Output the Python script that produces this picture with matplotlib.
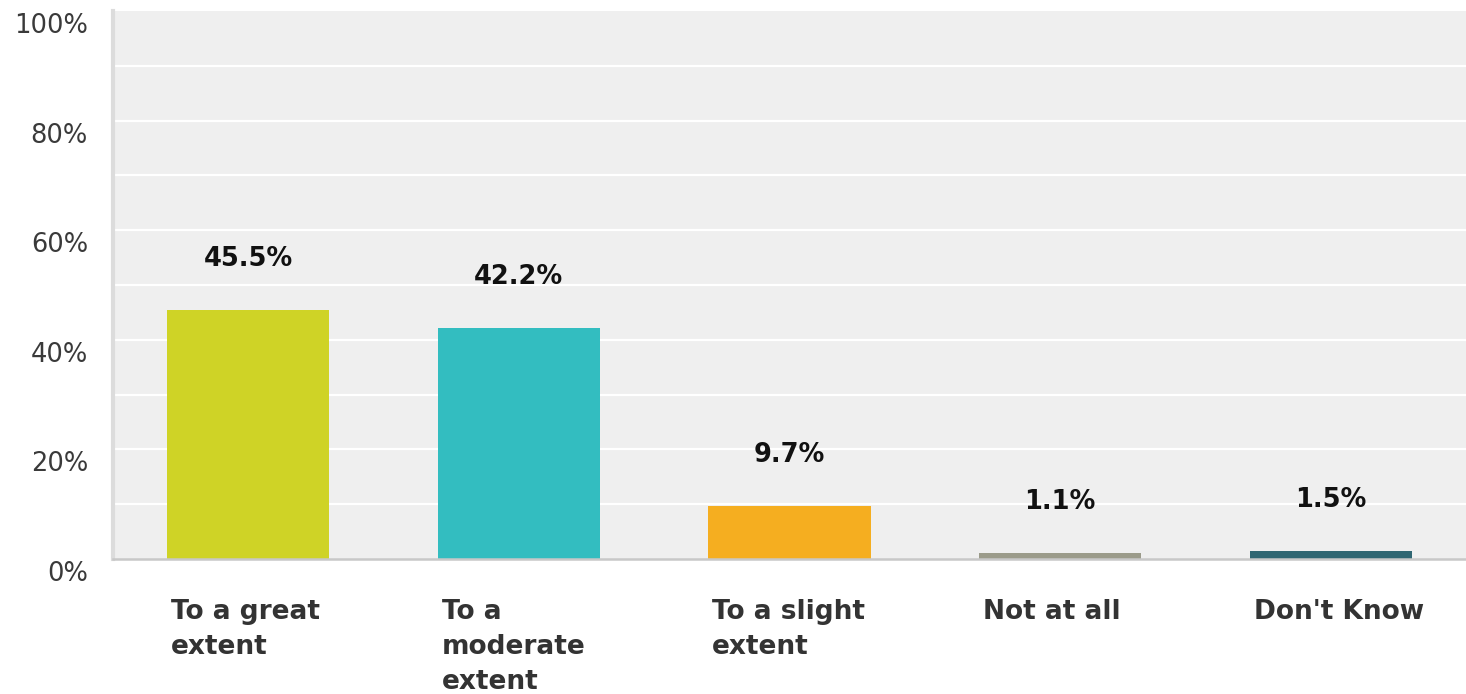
import matplotlib
matplotlib.use("Agg")
import matplotlib.pyplot as plt
from matplotlib.transforms import ScaledTranslation, blended_transform_factory

categories = ["To a great\nextent", "To a\nmoderate\nextent", "To a slight\nextent", "Not at all", "Don't Know"]
values = [45.5, 42.2, 9.7, 1.1, 1.5]
value_labels = ["45.5%", "42.2%", "9.7%", "1.1%", "1.5%"]
colors = ["#cfd326", "#33bdc0", "#f5ae20", "#9b9b8a", "#2f6672"]
yticks = [0, 20, 40, 60, 80, 100]
ytick_labels = ["0%", "20%", "40%", "60%", "80%", "100%"]

W, H = 1466, 694
dpi = 100
fig = plt.figure(figsize=(W / dpi, H / dpi), dpi=dpi)
fig.patch.set_facecolor("white")
ax = fig.add_axes([113 / W, (H - 559) / H, (W - 113) / W, (559 - 11) / H])
ax.set_facecolor("#efefef")

ax.set_xlim(-0.5, len(categories) - 0.5)
ax.set_ylim(0, 100)

# gridlines every 10%
for g in range(10, 100, 10):
    ax.axhline(g, color="white", lw=1.6, zorder=1)

x = list(range(len(categories)))
ax.bar(x, values, width=0.6, color=colors, zorder=2)

for xi, v, lab in zip(x, values, value_labels):
    ax.annotate(lab, (xi, v), xytext=(0, 51 * 72 / dpi), textcoords="offset points",
                ha="center", va="center", fontsize=18.5, fontweight="bold",
                family="DejaVu Sans", color="#111111", zorder=3)

for sp in ["top", "right"]:
    ax.spines[sp].set_visible(False)
ax.spines["left"].set_color("#dcdcdc")
ax.spines["left"].set_linewidth(3)
ax.spines["bottom"].set_color("#c8c8c8")
ax.spines["bottom"].set_linewidth(1.8)
ax.spines["bottom"].set_zorder(4)

ax.set_xticks([])
ax.set_yticks(yticks)
ax.set_yticklabels(ytick_labels, fontsize=18.5, color="#3a3a3a", family="DejaVu Sans")
ax.tick_params(axis="y", length=0, pad=18)
off = ScaledTranslation(0, -12 / dpi, fig.dpi_scale_trans)
for t in ax.get_yticklabels():
    t.set_transform(t.get_transform() + off)

trans = blended_transform_factory(ax.transData, ax.transAxes)
for xi, cat in zip(x, categories):
    ax.text(xi - 0.3, 0, cat, transform=trans + ScaledTranslation(4 / dpi, -40 / dpi, fig.dpi_scale_trans),
            ha="left", va="top", fontsize=19, fontweight="bold", color="#333333",
            family="DejaVu Sans", linespacing=1.45)

fig.savefig("out.png", dpi=dpi, facecolor="white")
